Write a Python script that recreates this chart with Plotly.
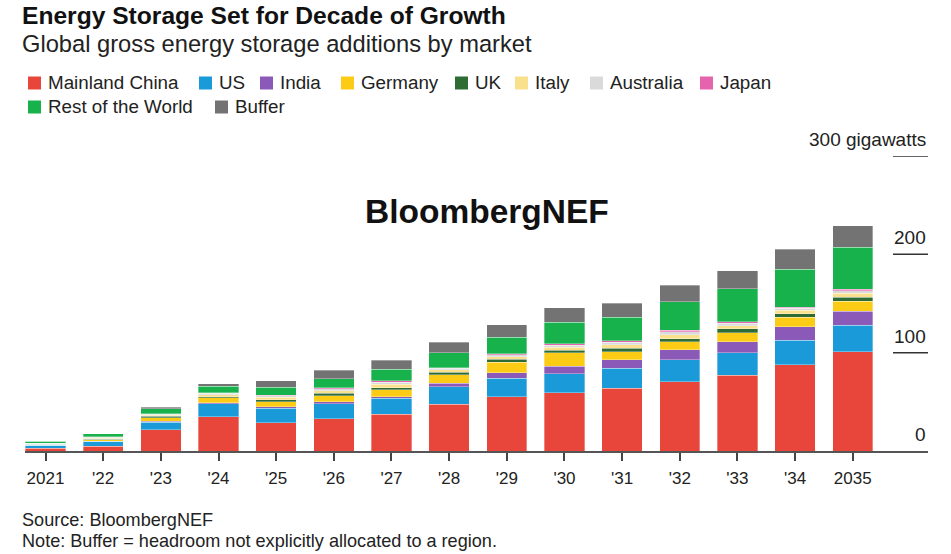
import plotly.graph_objects as go

# ---------------- data ----------------
years = ["2021", "'22", "'23", "'24", "'25", "'26", "'27", "'28", "'29", "'30",
         "'31", "'32", "'33", "'34", "2035"]

series_names = ["Mainland China", "US", "India", "Germany", "UK", "Italy",
                "Australia", "Japan", "Rest of the World", "Buffer"]

china = [2.8, 5, 21.4, 35, 28.8, 32.9, 37.3, 47.5, 55, 59, 64, 70.5, 77, 87.5, 101]
us = [3.2, 4.8, 7.8, 13.2, 14.6, 15.3, 16.3, 17.9, 19, 19.6, 20.3, 22.4, 23, 25.3, 26.8]
india = [0.1, 0.2, 1, 1, 1.7, 2, 1.4, 3.5, 5.7, 7.5, 8.5, 9.9, 11.2, 13.8, 14.5]
germany = [0.4, 1.6, 3.7, 4.8, 5.1, 5.8, 7.1, 8.7, 10.6, 13.8, 8, 8.1, 9.2, 9.5, 10]
uk = [0.3, 0.6, 1.5, 1.3, 2, 2.5, 2.3, 2.5, 3, 2.7, 3.5, 3.3, 3.7, 3.5, 4]
italy = [0.2, 1, 1.2, 2, 2.5, 2.8, 3.3, 2.5, 2.8, 3, 4, 4, 3.5, 3.5, 4]
australia = [0.8, 0.8, 0.8, 1.5, 1.5, 2, 2.3, 1.5, 1.8, 2, 2.5, 3, 2.5, 2, 2.5]
japan = [0.3, 0.4, 0.4, 0.6, 0.7, 0.9, 1.2, 0.8, 1, 1.3, 1.5, 1.7, 1.5, 1.2, 1.5]
rest_of_world = [1.8, 3.3, 5.4, 6.5, 8.1, 9.2, 11.9, 15, 16.6, 22, 23.7, 28.8, 33.6, 38.5, 43]
buffer = [0, 0, 1.3, 2.7, 6.5, 8.5, 9.2, 10.5, 13, 14.6, 14.5, 16.7, 18, 20.3, 22]

y_ticks = [0, 100, 200, 300]
y_tick_labels = ["0", "100", "200", "300 gigawatts"]

# ---------------- style ----------------
colors = ["#e8463b", "#1b9ad9", "#8b59b8", "#fccb16", "#2f6b34", "#f9e08d",
          "#dadada", "#e564ad", "#18b24d", "#737373"]
values = [china, us, india, germany, uk, italy, australia, japan, rest_of_world, buffer]

FONT = "Liberation Sans, Arial, sans-serif"
W, H = 951, 554
ML, MR, MT, MB = 25, 23, 156, 103
PW, PH = W - ML - MR, H - MT - MB


def px_x(X):
    return (X - ML) / PW


def px_y(Y):
    return (H - MB - Y) / PH


fig = go.Figure()
for name, vals, col in zip(series_names, values, colors):
    fig.add_trace(go.Bar(
        x=years, y=vals, name=name, showlegend=False,
        marker=dict(color=col, line=dict(color="rgba(255,255,255,0.55)", width=0.6)),
    ))

shapes = []
annotations = []

# right-side gridline stubs with labels above
for v, lab in zip(y_ticks, y_tick_labels):
    if v > 0:
        shapes.append(dict(type="line", xref="paper", yref="y", x0=px_x(893), x1=1,
                           y0=v, y1=v, line=dict(color="#333", width=1.5)))
    annotations.append(dict(xref="paper", yref="y", x=1, y=v, text=lab, showarrow=False,
                            xanchor="right", yanchor="bottom", yshift=4,
                            font=dict(family=FONT, size=19, color="#222")))

# custom legend (positions in pixels)
legend_pos = [(28, 83), (199, 83), (260, 83), (341, 83), (455, 83), (515, 83),
              (590, 83), (700, 83), (28, 107), (215, 107)]
SQ = 13
for (lx, ly), name, col in zip(legend_pos, series_names, colors):
    shapes.append(dict(type="rect", xref="paper", yref="paper",
                       x0=px_x(lx), x1=px_x(lx + SQ), y0=px_y(ly - SQ / 2), y1=px_y(ly + SQ / 2),
                       fillcolor=col, line=dict(width=0)))
    annotations.append(dict(xref="paper", yref="paper", x=px_x(lx + SQ + 5), y=px_y(ly),
                            text=name, showarrow=False, xanchor="left", yanchor="middle",
                            font=dict(family=FONT, size=18.8, color="#222")))

# title / subtitle
annotations.append(dict(xref="paper", yref="paper", x=px_x(20), y=px_y(15), text="<b>Energy Storage Set for Decade of Growth</b>",
                        showarrow=False, xanchor="left", yanchor="middle",
                        font=dict(family=FONT, size=24.6, color="#111")))
annotations.append(dict(xref="paper", yref="paper", x=px_x(20), y=px_y(44), text="Global gross energy storage additions by market",
                        showarrow=False, xanchor="left", yanchor="middle",
                        font=dict(family=FONT, size=23.7, color="#222")))
# watermark
annotations.append(dict(xref="paper", yref="paper", x=px_x(487), y=px_y(211), text="<b>BloombergNEF</b>",
                        showarrow=False, xanchor="center", yanchor="middle",
                        font=dict(family=FONT, size=33.5, color="#111")))
# footer
annotations.append(dict(xref="paper", yref="paper", x=px_x(20), y=px_y(520), text="Source: BloombergNEF",
                        showarrow=False, xanchor="left", yanchor="middle",
                        font=dict(family=FONT, size=18.1, color="#222")))
annotations.append(dict(xref="paper", yref="paper", x=px_x(20), y=px_y(541),
                        text="Note: Buffer = headroom not explicitly allocated to a region.",
                        showarrow=False, xanchor="left", yanchor="middle",
                        font=dict(family=FONT, size=18.1, color="#222")))

fig.update_layout(
    width=W, height=H, barmode="stack", bargap=0.3,
    margin=dict(l=ML, r=MR, t=MT, b=MB),
    paper_bgcolor="white", plot_bgcolor="white",
    shapes=shapes, annotations=annotations,
    xaxis=dict(type="category", range=[-0.356, 15.305], showline=True, linecolor="#555",
               linewidth=2, ticks="outside", ticklen=8, tickwidth=1.5, tickcolor="#444",
               showgrid=False, tickfont=dict(family=FONT, size=17, color="#222"),
               ticklabelstandoff=3),
    yaxis=dict(range=[0, 300], showgrid=False, showticklabels=False, zeroline=False,
               showline=False, ticks=""),
    font=dict(family=FONT),
)

fig.write_html("out.html")
